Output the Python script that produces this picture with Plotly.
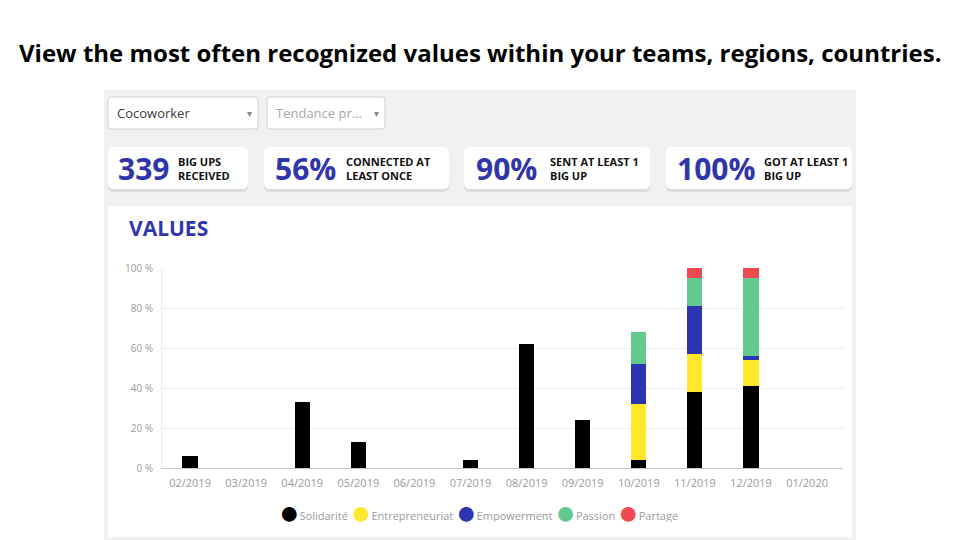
import plotly.graph_objects as go

# chart data
months = ["02/2019", "03/2019", "04/2019", "05/2019", "06/2019", "07/2019",
          "08/2019", "09/2019", "10/2019", "11/2019", "12/2019", "01/2020"]
solidarite = [6, 0, 33, 13, 0, 4, 62, 24, 4, 38, 41, 0]
entrepreneuriat = [0, 0, 0, 0, 0, 0, 0, 0, 28, 19, 13, 0]
empowerment = [0, 0, 0, 0, 0, 0, 0, 0, 20, 24, 2, 0]
passion = [0, 0, 0, 0, 0, 0, 0, 0, 16, 14, 39, 0]
partage = [0, 0, 0, 0, 0, 0, 0, 0, 0, 5, 5, 0]

series_names = ["Solidarité", "Entrepreneuriat", "Empowerment", "Passion", "Partage"]
series_values = [solidarite, entrepreneuriat, empowerment, passion, partage]
series_colors = ["#000000", "#ffe82b", "#2d34b0", "#62c98f", "#ee4a4f"]

y_ticks = [0, 20, 40, 60, 80, 100]

# kpi cards
kpi_values = ["339", "56%", "90%", "100%"]
kpi_labels = ["BIG UPS<br>RECEIVED", "CONNECTED AT<br>LEAST ONCE",
              "SENT AT LEAST 1<br>BIG UP", "GOT AT LEAST 1<br>BIG UP"]
dropdowns = ["Cocoworker", "Tendance pr..."]

title_text = "View the most often recognized values within your teams, regions, countries."

W, H = 960, 540
BLUE = "#3036a9"


def px(x):
    return x / W


def py(y):
    return 1 - y / H


def rrect(x0, y0, x1, y1, r):
    # rounded rectangle path in paper coords from pixel box
    rx, ry = r / W, r / H
    a, b, c, d = px(x0), py(y1), px(x1), py(y0)
    return (f"M {a+rx},{b} L {c-rx},{b} Q {c},{b} {c},{b+ry} "
            f"L {c},{d-ry} Q {c},{d} {c-rx},{d} L {a+rx},{d} "
            f"Q {a},{d} {a},{d-ry} L {a},{b+ry} Q {a},{b} {a+rx},{b} Z")


fig = go.Figure()

for name, vals, col in zip(series_names, series_values, series_colors):
    fig.add_trace(go.Bar(x=months, y=vals, name=name, marker_color=col,
                         marker_line_width=0, showlegend=False))

shapes = []
# dashboard background
shapes.append(dict(type="rect", xref="paper", yref="paper", layer="below",
                   x0=px(104), x1=px(856), y0=py(540), y1=py(90),
                   fillcolor="#f1f1f1", line_width=0))
# dropdowns
dd_boxes = [(108, 258), (267, 385)]
for x0, x1 in dd_boxes:
    shapes.append(dict(type="path", xref="paper", yref="paper", layer="below",
                       path=rrect(x0, 97, x1, 129, 3), fillcolor="white",
                       line=dict(color="#cfcfcf", width=1)))
# kpi cards with soft shadow
card_boxes = [(108, 248), (264, 449), (464, 650), (666, 852)]
for x0, x1 in card_boxes:
    shapes.append(dict(type="path", xref="paper", yref="paper", layer="below",
                       path=rrect(x0, 149, x1, 192, 6), fillcolor="#dcdcdc",
                       line_width=0))
    shapes.append(dict(type="path", xref="paper", yref="paper", layer="below",
                       path=rrect(x0, 147, x1, 189, 6), fillcolor="white",
                       line_width=0))
# chart panel
shapes.append(dict(type="rect", xref="paper", yref="paper", layer="below",
                   x0=px(108), x1=px(852), y0=py(537), y1=py(206),
                   fillcolor="white", line_width=0))

annotations = []
annotations.append(dict(text=f"<b>{title_text}</b>", x=0.5, y=py(53),
                        xref="paper", yref="paper", showarrow=False,
                        xanchor="center", yanchor="middle",
                        font=dict(family="Open Sans", size=24, color="#000000", weight=800)))
dd_colors = ["#3a3a3a", "#a8a8a8"]
for (x0, x1), txt, col in zip(dd_boxes, dropdowns, dd_colors):
    annotations.append(dict(text=txt, x=px(x0 + 7), y=py(113), xref="paper", yref="paper",
                            showarrow=False, xanchor="left", yanchor="middle",
                            font=dict(family="Open Sans", size=13, color=col)))
    annotations.append(dict(text="▾", x=px(x1 - 9), y=py(113), xref="paper", yref="paper",
                            showarrow=False, xanchor="center", yanchor="middle",
                            font=dict(family="DejaVu Sans", size=10, color="#888888")))

num_x = [116, 273, 474, 675]
lab_x = [176, 344, 548, 762]
for v, lab, nx, lx in zip(kpi_values, kpi_labels, num_x, lab_x):
    annotations.append(dict(text=f"<b>{v}</b>", x=px(nx), y=py(168), xref="paper", yref="paper",
                            showarrow=False, xanchor="left", yanchor="middle",
                            font=dict(family="Open Sans", size=30, color=BLUE, weight=800)))
    annotations.append(dict(text=f"<b>{lab}</b>", x=px(lx), y=py(169), xref="paper", yref="paper",
                            showarrow=False, xanchor="left", yanchor="middle", align="left",
                            font=dict(family="Open Sans", size=11, color="#111111")))

annotations.append(dict(text="<b>VALUES</b>", x=px(127), y=py(228), xref="paper", yref="paper",
                        showarrow=False, xanchor="left", yanchor="middle",
                        font=dict(family="Open Sans", size=21, color=BLUE, weight=800)))

# legend row built from the series names and colours
legend_text = " ".join(
    f"<span style='color:{c};font-size:34px;baseline-shift:-4px'>●</span>{n}"
    for n, c in zip(series_names, series_colors))
annotations.append(dict(text=legend_text, x=px(478), y=py(511), xref="paper", yref="paper",
                        showarrow=False, xanchor="center", yanchor="middle",
                        height=22, valign="middle",
                        font=dict(family="Open Sans", size=11, color="#9a9a9a")))

fig.update_layout(
    width=W, height=H,
    margin=dict(l=0, r=0, t=0, b=0, autoexpand=False),
    paper_bgcolor="white", plot_bgcolor="rgba(0,0,0,0)",
    barmode="stack", bargap=0.73,
    shapes=shapes, annotations=annotations,
    font=dict(family="Open Sans", color="#9a9a9a"),
    showlegend=False,
    xaxis=dict(domain=[px(162), px(843)], range=[-0.5, 11.64], type="category",
               showgrid=False, showline=True, linecolor="#c8c8c8", linewidth=1,
               automargin=False, ticklabelstandoff=5,
               ticks="", tickfont=dict(size=11, color="#9a9a9a"), fixedrange=True),
    yaxis=dict(domain=[py(468), py(268)], range=[0, 100], tickvals=y_ticks,
               ticktext=[f"{v} %" for v in y_ticks], automargin=False,
               showgrid=True, gridcolor="#ececec", gridwidth=1,
               zeroline=False, showline=True, linecolor="#ececec",
               ticks="", ticklabelstandoff=6,
               tickfont=dict(size=10, color="#9a9a9a"), fixedrange=True),
)

fig.write_html("out.html", config={"displayModeBar": False},
               post_script="document.body.style.margin='0';")
